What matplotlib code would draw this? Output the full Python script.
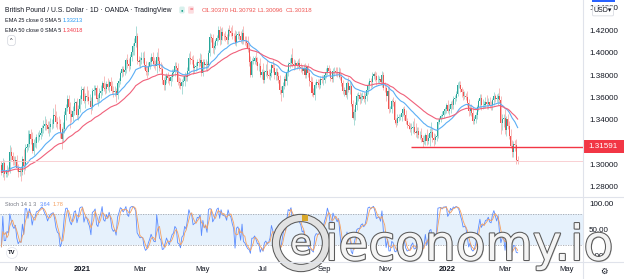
import numpy as np
import pandas as pd
import matplotlib
matplotlib.use("Agg")
import matplotlib.pyplot as plt
import matplotlib.patheffects as pe
from matplotlib.patches import Circle, Rectangle

plt.rcParams['font.family'] = ['Liberation Sans', 'DejaVu Sans']

# GBP/USD daily bars, first bar 2020-10-13, last 2022-03-14 (weekdays)
first_day = "2020-10-13"
open_first = 1.3000
ema25_seed = 1.2945
ema50_seed = 1.2935

close_2020 = [
    # Oct
    1.2925, 1.3015, 1.2915, 1.2915, 1.2950, 1.2945, 1.3115, 1.3075, 1.3040, 1.3025, 1.3045, 1.2965, 1.2930, 1.2945,
    # Nov
    1.2935, 1.3050, 1.2985, 1.3150, 1.3155, 1.3185, 1.3270, 1.3225, 1.3125, 1.3190,
    1.3190, 1.3245, 1.3250, 1.3260, 1.3285, 1.3325, 1.3345, 1.3365, 1.3350, 1.3315, 1.3340,
    # Dec
    1.3360, 1.3365, 1.3445, 1.3435, 1.3385, 1.3365, 1.3360, 1.3285, 1.3230, 1.3320,
    1.3445, 1.3510, 1.3585, 1.3515, 1.3455, 1.3425, 1.3480, 1.3550, 1.3560, 1.3445, 1.3500, 1.3585, 1.3670,
]
close_2021_h1 = [
    # Jan
    1.3675, 1.3570, 1.3610, 1.3605, 1.3565, 1.3565, 1.3515, 1.3655, 1.3665, 1.3680,
    1.3585, 1.3595, 1.3640, 1.3660, 1.3730, 1.3685, 1.3675, 1.3720, 1.3695, 1.3735, 1.3705,
    # Feb
    1.3660, 1.3645, 1.3655, 1.3625, 1.3730, 1.3750, 1.3815, 1.3850, 1.3830, 1.3845,
    1.3935, 1.3900, 1.3885, 1.3960, 1.4010, 1.4060, 1.4090, 1.4150, 1.3930, 1.3920,
    # Mar
    1.3935, 1.3950, 1.3950, 1.3890, 1.3840, 1.3830, 1.3885, 1.3920, 1.3965, 1.3930,
    1.3900, 1.3880, 1.3965, 1.3925, 1.3865, 1.3855, 1.3755, 1.3715, 1.3755, 1.3795, 1.3770, 1.3745, 1.3785,
    # Apr
    1.3820, 1.3830, 1.3880, 1.3865, 1.3740, 1.3725, 1.3705, 1.3735, 1.3745, 1.3795,
    1.3780, 1.3835, 1.3955, 1.3940, 1.3935, 1.3860, 1.3870, 1.3880, 1.3915, 1.3910, 1.3935, 1.3820,
    # May
    1.3915, 1.3890, 1.3900, 1.3890, 1.3995, 1.4140, 1.4135, 1.4040, 1.4060, 1.4100,
    1.4135, 1.4200, 1.4110, 1.4185, 1.4150, 1.4145, 1.4140, 1.4115, 1.4205, 1.4190, 1.4180,
    # Jun
    1.4150, 1.4145, 1.4090, 1.4160, 1.4165, 1.4150, 1.4115, 1.4175, 1.4110, 1.4105,
    1.4085, 1.4040, 1.3920, 1.3800, 1.3930, 1.3930, 1.3950, 1.3920, 1.3880, 1.3880, 1.3805, 1.3830,
]
close_2021_h2 = [
    # Jul
    1.3760, 1.3825, 1.3840, 1.3800, 1.3795, 1.3820, 1.3890, 1.3860, 1.3800, 1.3830,
    1.3795, 1.3760, 1.3665, 1.3640, 1.3705, 1.3765, 1.3745, 1.3825, 1.3895, 1.3905, 1.3955, 1.3900,
    # Aug
    1.3885, 1.3905, 1.3890, 1.3910, 1.3875, 1.3860, 1.3840, 1.3865, 1.3800, 1.3870,
    1.3820, 1.3745, 1.3740, 1.3640, 1.3620, 1.3715, 1.3735, 1.3730, 1.3715, 1.3765, 1.3755, 1.3760,
    # Sep
    1.3800, 1.3830, 1.3865, 1.3835, 1.3775, 1.3765, 1.3835, 1.3835, 1.3830, 1.3815,
    1.3830, 1.3785, 1.3730, 1.3660, 1.3665, 1.3625, 1.3725, 1.3670, 1.3700, 1.3545, 1.3420, 1.3470,
    # Oct
    1.3530, 1.3610, 1.3620, 1.3590, 1.3605, 1.3615, 1.3590, 1.3610, 1.3665, 1.3715,
    1.3745, 1.3735, 1.3795, 1.3810, 1.3790, 1.3755, 1.3760, 1.3765, 1.3740, 1.3800, 1.3685,
    # Nov
    1.3680, 1.3610, 1.3655, 1.3495, 1.3495, 1.3565, 1.3555, 1.3395, 1.3370, 1.3415,
    1.3425, 1.3425, 1.3460, 1.3495, 1.3440, 1.3390, 1.3355, 1.3345, 1.3320, 1.3330, 1.3340, 1.3295,
    # Dec
    1.3280, 1.3300, 1.3265, 1.3265, 1.3235, 1.3205, 1.3215, 1.3265, 1.3210, 1.3240,
    1.3285, 1.3290, 1.3235, 1.3220, 1.3245, 1.3255, 1.3385, 1.3405, 1.3435, 1.3445, 1.3480, 1.3495, 1.3530,
]
close_2022 = [
    # Jan
    1.3480, 1.3500, 1.3545, 1.3530, 1.3590, 1.3595, 1.3635, 1.3710, 1.3710, 1.3675,
    1.3645, 1.3610, 1.3615, 1.3605, 1.3550, 1.3480, 1.3505, 1.3465, 1.3390, 1.3405, 1.3445,
    # Feb
    1.3515, 1.3570, 1.3595, 1.3530, 1.3535, 1.3535, 1.3560, 1.3545, 1.3560, 1.3535,
    1.3530, 1.3575, 1.3610, 1.3590, 1.3590, 1.3610, 1.3575, 1.3370, 1.3410, 1.3415,
    # Mar
    1.3310, 1.3405, 1.3345, 1.3255, 1.3165, 1.3110, 1.3180, 1.3175, 1.3037, 1.30318,
]

# wick lengths beyond the body, in pips
wick_up_2020 = [
    30, 40, 25, 35, 45, 30, 62, 40, 35, 40, 30, 45, 40, 35,
    40, 30, 90, 30, 30, 128, 40, 45, 65, 35, 60, 25, 40, 45, 35, 25, 50, 65, 45, 40, 50,
    60, 45, 60, 100, 40, 40, 70, 45, 50, 60, 35, 30, 40, 40, 40, 35, 40, 45, 10, 35, 30, 40, 30,
]
wick_dn_2020 = [
    20, 35, 55, 30, 25, 40, 20, 35, 40, 30, 35, 25, 40, 35,
    80, 30, 70, 30, 40, 25, 30, 45, 25, 40, 35, 40, 45, 30, 35, 30, 40, 35, 45, 30, 60,
    45, 40, 35, 40, 50, 45, 40, 50, 95, 30, 35, 45, 30, 55, 130, 40, 35, 40, 10, 35, 45, 30, 40,
]
wick_up_2021_h1 = [
    20, 30, 30, 95, 65, 65, 40, 30, 45, 30, 30, 40, 45, 50, 15, 60, 40, 30, 55, 20, 45,
    45, 40, 50, 25, 20, 25, 20, 30, 30, 35, 20, 55, 50, 25, 25, 25, 45, 91, 30, 40,
    30, 60, 55, 65, 40, 45, 30, 40, 30, 40, 35, 35, 40, 80, 40, 55, 45, 25, 45, 25, 30, 30, 25,
    30, 25, 40, 40, 40, 40, 45, 30, 45, 30, 25, 40, 40, 60, 30, 40, 25, 40, 30, 35, 60, 50,
    30, 30, 40, 30, 25, 35, 30, 30, 35, 20, 20, 35, 35, 35, 45, 25, 50, 30, 20, 40, 40,
    70, 30, 55, 30, 30, 25, 45, 35, 60, 40, 40, 60, 40, 50, 20, 40, 20, 60, 45, 30, 70, 25,
]
wick_dn_2021_h1 = [
    10, 20, 65, 40, 25, 30, 65, 30, 35, 40, 25, 65, 35, 45, 40, 25, 45, 35, 30, 45, 35,
    30, 40, 35, 65, 40, 40, 30, 35, 35, 30, 25, 40, 45, 35, 30, 30, 85, 40, 35, 35,
    55, 35, 45, 35, 40, 55, 30, 35, 35, 50, 40, 35, 60, 35, 30, 45, 35, 45, 45, 30, 40, 35, 45,
    35, 30, 40, 40, 30, 40, 30, 70, 35, 40, 35, 30, 35, 45, 35, 50, 40, 30, 35, 40, 25, 25,
    30, 40, 45, 50, 30, 25, 40, 40, 50, 30, 35, 30, 40, 35, 40, 30, 40, 35, 40, 40, 35,
    30, 40, 25, 30, 40, 35, 30, 40, 30, 40, 35, 30, 40, 15, 20, 35, 30, 30, 35, 45, 20, 40,
]
wick_up_2021_h2 = [
    75, 20, 55, 95, 50, 35, 20, 45, 50, 30, 35, 35, 45, 40, 30, 25, 45, 25, 25, 50, 30, 85,
    40, 30, 20, 30, 40, 30, 30, 30, 40, 20, 40, 35, 45, 45, 40, 20, 30, 30, 35, 25, 40, 45,
    30, 30, 25, 25, 30, 30, 30, 35, 40, 45, 40, 35, 30, 30, 30, 30, 25, 55, 45, 40, 35, 30,
    30, 30, 30, 30, 35, 30, 30, 30, 20, 20, 25, 30, 30, 20, 30, 35, 45, 30, 25, 35, 30,
    50, 30, 35, 50, 30, 25, 35, 25, 25, 35, 25, 30, 30, 20, 25, 45, 25, 30, 30, 40, 50, 80,
    75, 40, 35, 35, 60, 30, 45, 20, 55, 30, 40, 90, 40, 50, 25, 30, 20, 20, 20, 30, 20, 20, 20,
]
wick_dn_2021_h2 = [
    30, 35, 30, 30, 30, 35, 40, 35, 35, 40, 35, 30, 35, 68, 40, 30, 40, 30, 30, 35, 25, 30,
    40, 30, 35, 30, 30, 35, 30, 30, 25, 30, 35, 40, 40, 30, 20, 40, 30, 35, 40, 35, 30, 45,
    35, 30, 30, 30, 30, 30, 30, 40, 35, 30, 40, 25, 30, 30, 45, 25, 35, 25, 35, 25, 10, 65,
    70, 40, 45, 50, 40, 30, 30, 45, 45, 30, 40, 50, 40, 30, 40, 40, 30, 30, 30, 45, 20,
    30, 40, 30, 30, 25, 30, 30, 35, 30, 20, 25, 30, 35, 30, 40, 30, 30, 25, 30, 55, 45, 20,
    35, 40, 25, 35, 30, 45, 25, 40, 35, 30, 70, 35, 35, 50, 35, 30, 15, 25, 20, 20, 30, 25, 30,
]
wick_up_2022 = [
    50, 45, 20, 35, 25, 30, 20, 25, 40, 40, 20, 30, 40, 25, 50, 40, 30, 35, 50, 25, 25,
    20, 20, 35, 35, 50, 30, 40, 60, 35, 45, 30, 20, 35, 25, 45, 30, 70, 40, 40, 40,
    85, 25, 50, 45, 60, 55, 35, 40, 50, 42.2,
]
wick_dn_2022 = [
    20, 40, 35, 35, 30, 50, 30, 20, 30, 30, 40, 30, 25, 30, 30, 50, 35, 35, 30, 25, 30,
    40, 35, 60, 40, 30, 30, 30, 50, 50, 30, 40, 40, 40, 30, 30, 55, 25, 98, 60, 75,
    35, 55, 30, 25, 20, 45, 40, 50, 35, 22.2,
]

hline_level = 1.31591
hline_from = "2021-11-26"

tick_dates = ['2020-11-02', '2021-01-01', '2021-03-01', '2021-05-03', '2021-07-01',
              '2021-09-01', '2021-11-01', '2022-01-03', '2022-03-01', '2022-05-02']
tick_labels = ['Nov', '2021', 'Mar', 'May', 'Jul', 'Sep', 'Nov', '2022', 'Mar', 'May']

# ---- build OHLC + indicators
closes = np.array(close_2020 + close_2021_h1 + close_2021_h2 + close_2022)
w_up = np.array(wick_up_2020 + wick_up_2021_h1 + wick_up_2021_h2 + wick_up_2022) / 10000
w_dn = np.array(wick_dn_2020 + wick_dn_2021_h1 + wick_dn_2021_h2 + wick_dn_2022) / 10000
opens = np.r_[open_first, closes[:-1]]
highs = np.maximum(opens, closes) + w_up
lows = np.minimum(opens, closes) - w_dn
x = np.arange(len(closes))

ema25 = pd.Series(np.r_[ema25_seed, closes]).ewm(span=25, adjust=False).mean().values[1:]
ema50 = pd.Series(np.r_[ema50_seed, closes]).ewm(span=50, adjust=False).mean().values[1:]

hh = pd.Series(highs).rolling(14, min_periods=1).max().values
ll = pd.Series(lows).rolling(14, min_periods=1).min().values
k = 100 * (closes - ll) / (hh - ll)
d = pd.Series(k).rolling(3, min_periods=1).mean().values

# ---- figure layout (pixel based)
W, H = 624, 279
fig = plt.figure(figsize=(W / 100, H / 100), dpi=100)


def box(x0, y0, x1, y1):
    return [x0 / W, 1 - y1 / H, (x1 - x0) / W, (y1 - y0) / H]


ax = fig.add_axes(box(0, 0, 583, 197))
ax2 = fig.add_axes(box(0, 197, 583, 262), sharex=ax)
xmin, xmax = -1.0, 415.7
ymin, ymax = 1.27103, 1.44708

up_c, dn_c = '#26a69a', '#ef5350'
rising = closes >= opens
cols = np.where(rising, up_c, dn_c)
ax.vlines(x, lows, highs, colors=cols, lw=0.6, alpha=0.45)
body_lo = np.minimum(opens, closes)
body_h = np.maximum(np.abs(closes - opens), 0.00025)
ax.bar(x, body_h, bottom=body_lo, width=0.72, color=cols, linewidth=0)

ax.plot(x, ema25, color='#5aaef5', lw=0.8)
ax.plot(x, ema50, color='#f0607a', lw=0.8)

ax.axhline(closes[-1], color='#f8c9cc', lw=0.6)
ax.hlines(hline_level, np.busday_count(first_day, hline_from), xmax, color='#f23645', lw=1.0)

ax.set_xlim(xmin, xmax)
ax.set_ylim(ymin, ymax)
ax.yaxis.tick_right()
yt = np.arange(1.28, 1.4401, 0.02)
ax.set_yticks(yt)
ax.set_yticklabels([f"{v:.5f}" for v in yt])
ax.tick_params(axis='y', length=0, pad=4.3, labelsize=5.8, labelcolor='#131722')
ax.tick_params(axis='x', bottom=False, labelbottom=False)
for s in ax.spines.values():
    s.set_visible(False)

# stochastic pane
ax2.axhspan(20, 80, color='#e6f1fc', lw=0)
for lvl in (80, 20):
    ax2.axhline(lvl, color='#a3a6ae', lw=0.6, ls=(0, (1.5, 1.5)))
ax2.plot(x, k, color='#5b8cff', lw=0.6)
ax2.plot(x, d, color='#f5a05f', lw=0.6)
ax2.set_ylim(-13.7, 113.7)
ax2.yaxis.tick_right()
ax2.set_yticks([0, 50, 100])
ax2.set_yticklabels(['0.00', '50.00', '100.00'])
ax2.tick_params(axis='y', length=0, pad=4.3, labelsize=5.8, labelcolor='#131722')
ax2.set_xticks(np.busday_count(first_day, tick_dates))
ax2.set_xticklabels(tick_labels)
ax2.tick_params(axis='x', length=0, pad=3, labelsize=5.5, labelcolor='#131722')
for t in ax2.get_xticklabels():
    if t.get_text() in ('2021', '2022'):
        t.set_fontweight('bold')
for s in ax2.spines.values():
    s.set_visible(False)
ax2.set_xlim(xmin, xmax)

# ---- overlay in pixel coordinates
ov = fig.add_axes([0, 0, 1, 1], zorder=10)
ov.set_xlim(0, W)
ov.set_ylim(H, 0)
ov.axis('off')
ov.patch.set_alpha(0)


def py(p):
    return 197 * (ymax - p) / (ymax - ymin)


grid_c = '#e0e3eb'
ov.plot([583, 583], [0, H], color=grid_c, lw=0.8)
ov.plot([0, W], [197, 197], color=grid_c, lw=0.8)
ov.plot([0, W], [262, 262], color=grid_c, lw=0.8)

ov.text(5, 10, "British Pound / U.S. Dollar · 1D · OANDA · TradingView",
        fontsize=4.9, color='#131722', va='center')
ov.text(182, 10, '●', fontsize=3.0, color='#089981', ha='center', va='center',
        bbox=dict(boxstyle='round,pad=0.35', fc='#d7f0ec', ec='none'))
ov.text(191, 10, '=', fontsize=4.2, color='#f23645', ha='center', va='center',
        bbox=dict(boxstyle='round,pad=0.2', fc='#fcdde0', ec='none'))
for xx, lab, val in [(202, 'O', '1.30370'), (230, 'H', '1.30792'),
                     (258, 'L', '1.30096'), (286, 'C', '1.30318')]:
    ov.text(xx, 10, lab + val, fontsize=4.4, color='#ef5350', va='center')

ov.text(5, 20, "EMA 25 close 0 SMA 5", fontsize=4.0, color='#131722', va='center')
ov.text(63, 20, "1.33213", fontsize=4.0, color='#2196f3', va='center')
ov.text(5, 30, "EMA 50 close 0 SMA 5", fontsize=4.0, color='#131722', va='center')
ov.text(63, 30, "1.34018", fontsize=4.0, color='#f23645', va='center')
ov.text(11.5, 40.5, "^", fontsize=4.0, color='#131722', ha='center', va='center',
        bbox=dict(boxstyle='round,pad=0.45', fc='white', ec='#d1d4dc', lw=0.5))

ov.text(5, 205, "Stoch 14 1 3", fontsize=4.0, color='#787b86', va='center')
ov.text(40, 205, "3.64", fontsize=4.0, color='#5b8cff', va='center')
ov.text(53, 205, "1.78", fontsize=4.0, color='#f5a05f', va='center')
ov.text(12, 253, "TV", fontsize=4.2, weight='bold', color='#131722', ha='center', va='center',
        bbox=dict(boxstyle='circle,pad=0.3', fc='white', ec='#e0e3eb', lw=0.5))

# price labels on the axis
ov.add_patch(Rectangle((592, 0), 23, 2, color='#2962ff', lw=0))
ov.text(603, 11, "USD▾", fontsize=5.0, color='#131722', ha='center', va='center',
        bbox=dict(boxstyle='round,pad=0.2', fc='white', ec='#d1d4dc', lw=0.5))
yl = py(hline_level)
ov.add_patch(Rectangle((583, yl - 6.5), 41, 13, color='#f23645', lw=0))
ov.text(603.5, yl, f"{hline_level:.5f}", fontsize=5.8, color='white', ha='center', va='center')
ov.text(604, 271, "⚙", fontsize=6, color='#131722', ha='center', va='center', family='DejaVu Sans')

# watermark
stroke = [pe.SimplePatchShadow(offset=(0.8, -0.8), shadow_rgbFace='#9a9a9a', alpha=0.6),
          pe.Stroke(linewidth=1.5, foreground='#5a5a5a'), pe.Normal()]
ring = Circle((301, 243), 25, fill=False, ec='#e2e2e2', lw=4.5,
              path_effects=[pe.Stroke(linewidth=6.0, foreground='#5a5a5a'), pe.Normal()])
ov.add_patch(ring)
ov.text(301, 244, 'e', fontsize=25, family='DejaVu Sans', color='#f2f2f2',
        ha='center', va='center', path_effects=stroke)
ov.add_patch(Rectangle((302, 215), 6, 6, color='#d9a82a', lw=0))
ov.text(325, 260, 'ieconomy.io', fontsize=35, family='DejaVu Sans', color='#f4f4f4',
        va='baseline', ha='left', path_effects=stroke)

fig.savefig('out.png', dpi=100)
